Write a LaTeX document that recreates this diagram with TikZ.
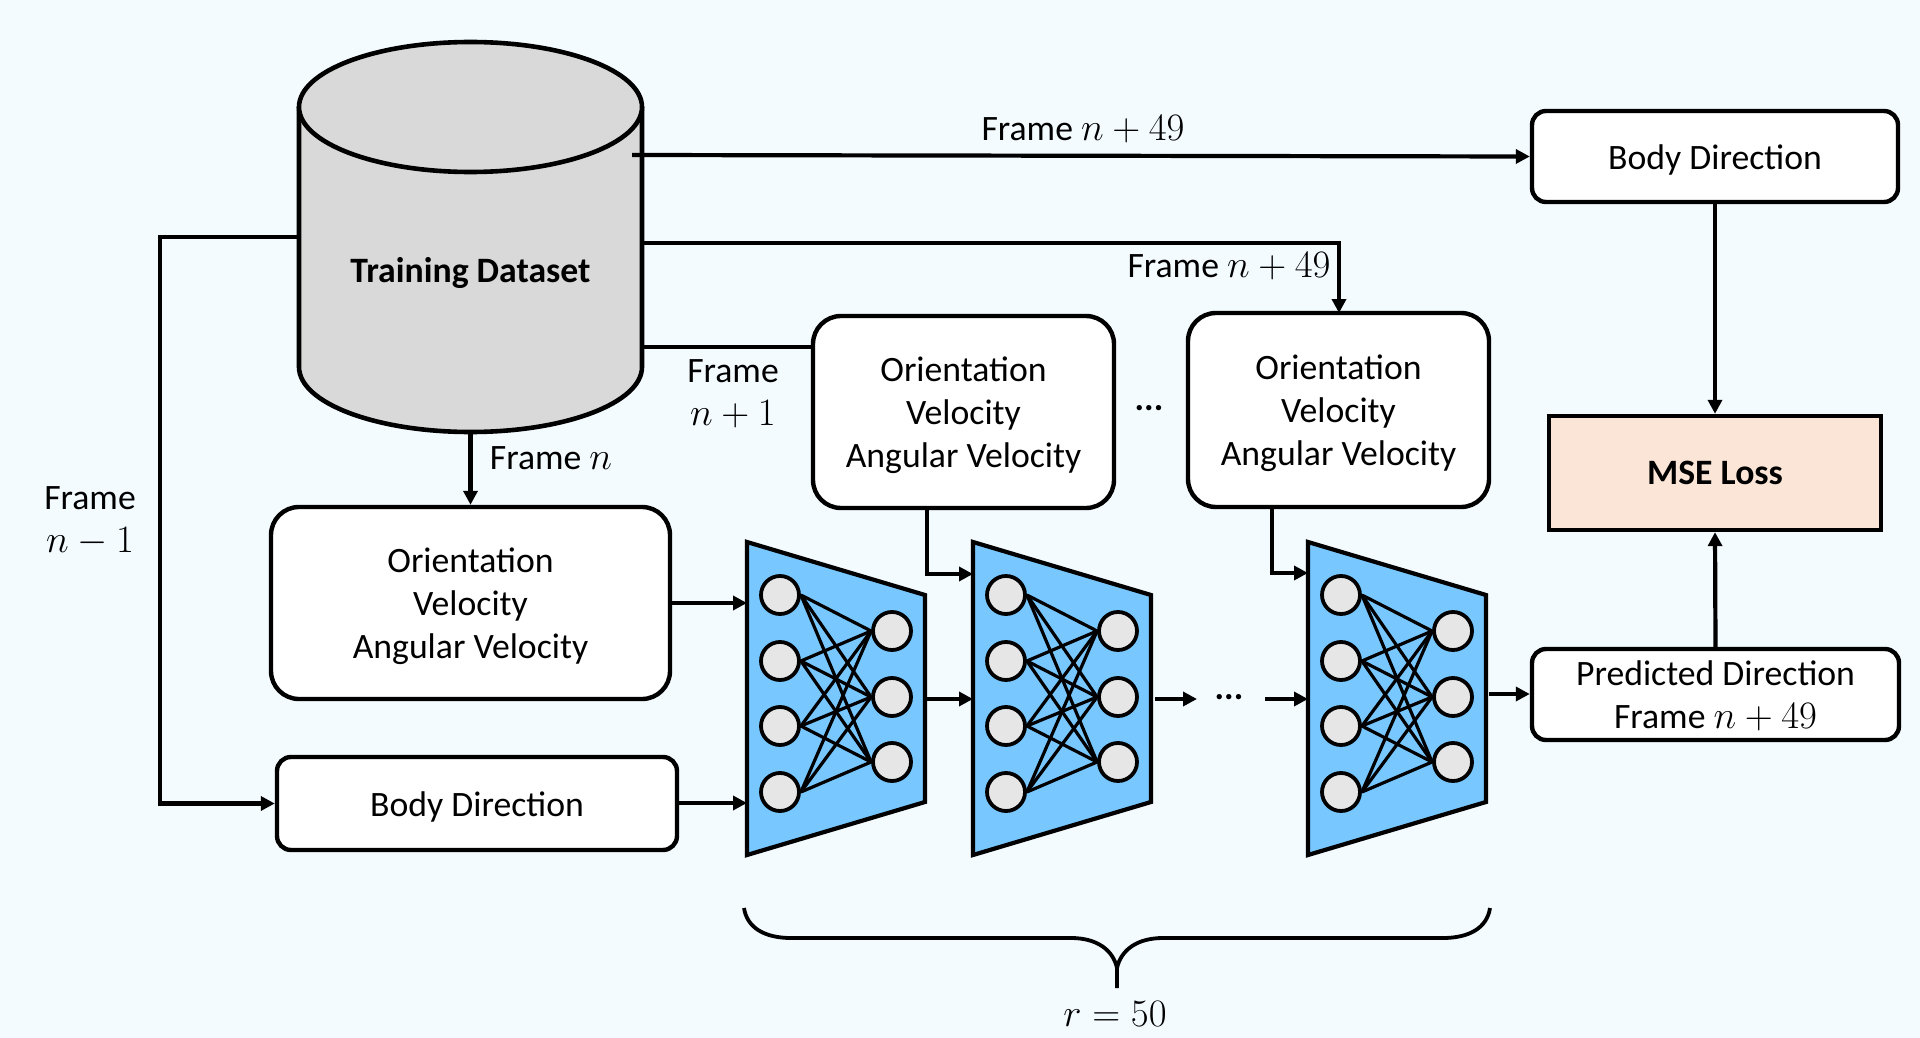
\RequirePackage{fix-cm}
\documentclass[tikz,border=0pt]{standalone}
\usepackage[no-math]{fontspec}
\setmainfont{Carlito}
\usetikzlibrary{arrows.meta,calc}
\DeclareMathSizes{35.7}{38.8}{28}{20}
\definecolor{bgc}{HTML}{F3FBFF}
\definecolor{netc}{HTML}{78C8FF}
\definecolor{neuc}{HTML}{E6E6E6}
\definecolor{cylc}{HTML}{D9D9D9}
\definecolor{lossc}{HTML}{FBE5D6}
\tikzset{
  conn/.style={line width=4.2pt,-{Triangle[length=14pt,width=14pt]}},
  plain/.style={line width=4.2pt},
  databox/.style={draw,line width=4.4pt,fill=white,rounded corners=28pt,align=center,inner sep=0pt},
  smallbox/.style={draw,line width=4.4pt,fill=white,rounded corners=14pt,align=center,inner sep=0pt},
  lbl/.style={inner sep=0pt,align=center},
  neuron/.style={circle,draw,line width=3.8pt,fill=neuc,minimum size=38pt,inner sep=0pt},
  wire/.style={line width=3.2pt},
  trap/.style={draw,line width=4.2pt,fill=netc,line join=miter}
}
\newcommand{\netblock}[2]{%
  \draw[trap] (#2,542) -- (#2+178,595) -- (#2+178,802) -- (#2,855) -- cycle;
  \foreach \i/\y in {1/595,2/661,3/726,4/792}{\node[neuron] (#1l\i) at (#2+33,\y) {};}
  \foreach \j/\y in {1/631,2/697,3/762}{\node[neuron] (#1r\j) at (#2+145,\y) {};}
  \foreach \i in {1,2,3,4}{\foreach \j in {1,2,3}{\draw[wire] (#1l\i.east) -- (#1r\j.west);}}
  \coordinate (#1in) at (#2,699);
  \coordinate (#1out) at (#2+178,699);
}
% raises the top of the first line, which lowers the text in its node by half of #1
\newcommand{\lowerby}[1]{\raisebox{#1}{\vphantom{Ol}}}
\newcommand{\threeq}{\lowerby{7pt}Orientation\\Velocity\\Angular Velocity}
\begin{document}
\begin{tikzpicture}[x=1pt,y=-1pt,every node/.append style={font=\fontsize{35.7}{43}\selectfont}]
\path[use as bounding box,fill=bgc] (0,0) rectangle (1920,1038);
% cylinder
\draw[line width=4.6pt,fill=cylc] (299,107) -- (299,367) arc[start angle=180,end angle=360,x radius=171.5pt,y radius=65pt] -- (642,107);
\draw[line width=4.6pt,fill=cylc] (470.5,107) ellipse[x radius=171.5pt,y radius=65pt];
\node[lbl,minimum width=343pt,minimum height=365pt,font=\fontsize{35.7}{43}\selectfont\bfseries] (ds) at (470.5,271) {\lowerby{4pt}Training Dataset};
% boxes
\node[smallbox,minimum width=366pt,minimum height=91pt] (bdt) at (1715,156.5) {\lowerby{7pt}Body Direction};
\node[databox,minimum width=399pt,minimum height=192pt] (b1) at (470.5,603) {\threeq};
\node[smallbox,minimum width=400pt,minimum height=93pt] (bdl) at (477,803.5) {\lowerby{7pt}Body Direction};
\node[databox,minimum width=301pt,minimum height=192pt] (b2) at (963.5,412) {\threeq};
\node[databox,minimum width=301pt,minimum height=194pt] (b3) at (1338.5,410) {\threeq};
\node[draw,line width=4.4pt,fill=lossc,minimum width=332pt,minimum height=114pt,inner sep=0pt,font=\fontsize{35.7}{43}\selectfont\bfseries] (mse) at (1715,473) {MSE Loss};
\node[smallbox,minimum width=367pt,minimum height=91pt] (pred) at (1715.5,694.5) {\lowerby{2pt}Predicted Direction\\Frame $n+49$};
% networks
\netblock{na}{747}
\netblock{nb}{973}
\netblock{nc}{1308}
% connectors
\coordinate (cylbot) at (470.5,432);
\draw[conn] (cylbot) -- (b1.north);
\draw[conn] (b1.east |- 0,603) -- (747,603);
\draw[conn] (bdl.east |- 0,803) -- (747,803);
\draw[conn] (927,699) -- (nbin);
\draw[conn] (927,508) -- (927,574) -- (973,574);
\draw[conn] (1155,699) -- (1197,699);
\draw[conn] (1265,699) -- (ncin);
\draw[conn] (1272,507) -- (1272,573) -- (1308,573);
\draw[conn] (1489,694) -- (pred.west |- 0,694);
\draw[conn] (pred.north) -- (mse.south);
\draw[conn] (bdt.south) -- (mse.north);
\draw[conn] (632,155) -- (bdt.west);
\draw[conn] (ds.east |- 0,243) -- (1339,243) -- (1339,313);
\draw[plain] (ds.east |- 0,347) -- (b2.west |- 0,347);
\draw[conn] (ds.west |- 0,237) -- (160,237) -- (160,803.5) -- (bdl.west);
% labels
\node[lbl] (l1) at (1083,129) {Frame $n+49$};
\node[lbl] (l2) at (1229,266) {Frame $n+49$};
\node[lbl] (l3) at (733,394) {Frame\\$n+1$};
\node[lbl] (l4) at (551,458) {Frame $n$};
\node[lbl] (l5) at (90,521) {Frame\\$n-1$};
\node[lbl] (l6) at (1149,408) {\textbf{...}};
\node[lbl] (l7) at (1229,697) {\textbf{...}};
\node[lbl] (l8) at (1115,1014) {$r=50$};
% brace
\draw[line width=3.8pt] (744,908) .. controls (747,928) and (765,938) .. (791,938) -- (1071,938) .. controls (1097,938) and (1113,950) .. (1117,968) -- (1117,988);
\draw[line width=3.8pt] (1490,908) .. controls (1487,928) and (1469,938) .. (1443,938) -- (1163,938) .. controls (1137,938) and (1121,950) .. (1117,968);
\end{tikzpicture}
\end{document}
